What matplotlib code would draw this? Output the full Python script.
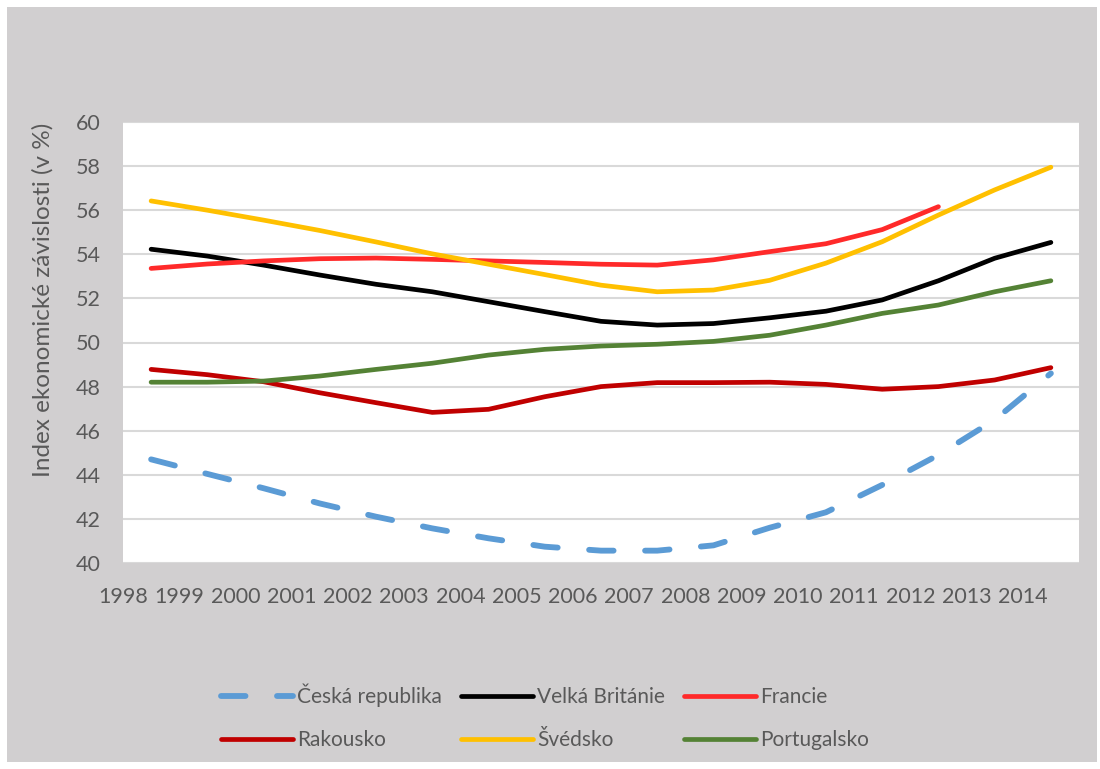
import matplotlib.pyplot as plt
from matplotlib.patches import Rectangle
from matplotlib.lines import Line2D
import numpy as np

plt.rcParams['font.family'] = ['Lato', 'DejaVu Sans']

years = [str(y) for y in range(1998, 2015)]

cesko = [44.70, 44.04, 43.39, 42.70, 42.10, 41.57, 41.12, 40.74, 40.56, 40.56,
         40.80, 41.60, 42.30, 43.54, 44.90, 46.49, 48.60]
britanie = [54.23, 53.92, 53.51, 53.06, 52.64, 52.30, 51.85, 51.40, 50.96, 50.79,
            50.86, 51.12, 51.42, 51.93, 52.80, 53.82, 54.54]
francie = [53.36, 53.56, 53.70, 53.80, 53.83, 53.77, 53.70, 53.63, 53.55, 53.51,
           53.75, 54.12, 54.48, 55.12, 56.16]
rakousko = [48.78, 48.54, 48.22, 47.72, 47.27, 46.83, 46.97, 47.54, 48.00, 48.18,
            48.18, 48.20, 48.10, 47.88, 48.00, 48.30, 48.86]
svedsko = [56.42, 56.00, 55.55, 55.08, 54.56, 54.02, 53.55, 53.08, 52.60, 52.30,
           52.38, 52.82, 53.60, 54.57, 55.78, 56.92, 57.95]
portugalsko = [48.20, 48.20, 48.25, 48.48, 48.78, 49.06, 49.43, 49.69, 49.84, 49.92,
               50.05, 50.33, 50.79, 51.32, 51.70, 52.30, 52.80]

W, H = 1100, 769
fig = plt.figure(figsize=(W / 100, H / 100), dpi=100, facecolor='white')
# grey chart area with a thin white margin
fig.patches.append(Rectangle((7 / W, 7 / H), (1097 - 7) / W, (762 - 7) / H,
                             transform=fig.transFigure, facecolor='#d1cfd0',
                             edgecolor='none', zorder=-10))

ax = fig.add_axes([123 / W, 1 - 563 / H, (1079 - 123) / W, (563 - 122) / H])
ax.set_facecolor('white')

x = np.arange(len(years)) + 0.5
lw = 3.4
grey_txt = '#595959'
dash = (4.2, 5.4)

series = [
    ('Česká republika', cesko, '#5b9bd5'),
    ('Velká Británie', britanie, '#000000'),
    ('Francie', francie, '#ff2a2a'),
    ('Rakousko', rakousko, '#c00000'),
    ('Švédsko', svedsko, '#ffc000'),
    ('Portugalsko', portugalsko, '#548235'),
]

handles = []
for name, vals, col in series:
    xs = x[:len(vals)]
    if name == 'Česká republika':
        ax.plot(xs, vals, color=col, lw=lw + 0.8, dashes=dash,
                dash_capstyle='round', dash_joinstyle='round', zorder=3)
        h = Line2D([], [], color=col, lw=lw + 0.8, dashes=dash,
                   dash_capstyle='round')
    else:
        ax.plot(xs, vals, color=col, lw=lw, solid_capstyle='round',
                solid_joinstyle='round', zorder=3)
        h = Line2D([], [], color=col, lw=lw, solid_capstyle='round')
    handles.append((h, name))

ax.set_xlim(0, len(years))
ax.set_ylim(40, 60)
ax.set_yticks(np.arange(40, 61, 2))
ax.set_xticks(np.arange(len(years)))
ax.set_xticklabels(years)
ax.set_xticks(np.arange(1, len(years)), minor=True)

ax.grid(axis='y', color='#d9d9d9', lw=1.5, zorder=1)
ax.grid(axis='x', which='minor', color='#d9d9d9', lw=1.5, zorder=1)
ax.grid(axis='x', which='major', visible=False)
for s in ax.spines.values():
    s.set_visible(False)
ax.tick_params(which='both', length=0)
ax.tick_params(axis='y', labelsize=15.5, labelcolor=grey_txt, pad=16)
ax.tick_params(axis='x', labelsize=15.5, labelcolor=grey_txt, pad=17)

ax.set_ylabel('Index ekonomické závislosti (v %)', fontsize=17.5, color=grey_txt)
ax.yaxis.set_label_coords(-0.073, 0.596)

# legend fills column by column, so reorder to get rows of three
order = [0, 3, 1, 4, 2, 5]
leg = fig.legend([handles[i][0] for i in order], [handles[i][1] for i in order],
                 loc='center', bbox_to_anchor=(545 / W, 1 - 717 / H), ncol=3,
                 frameon=False, fontsize=15, labelcolor=grey_txt,
                 handlelength=3.45, handletextpad=0.2, columnspacing=0.9,
                 labelspacing=1.1)

fig.savefig('out.png', dpi=100, facecolor='white')
